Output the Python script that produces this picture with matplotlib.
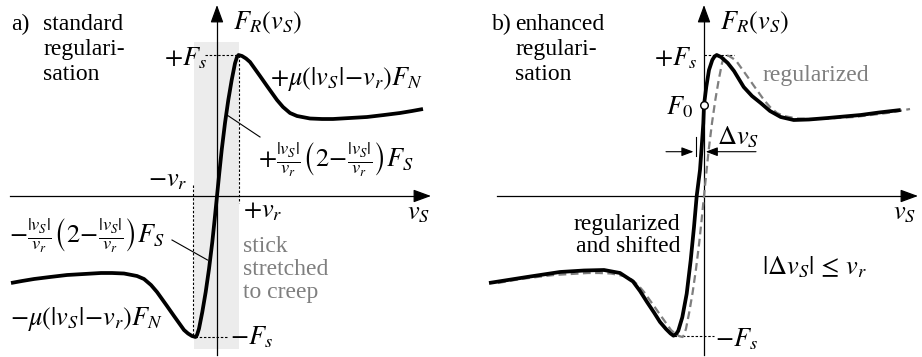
import matplotlib
matplotlib.use('Agg')
import matplotlib.pyplot as plt

plt.rcParams['font.family'] = ['Liberation Serif', 'DejaVu Serif']
plt.rcParams['mathtext.fontset'] = 'stix'

# standard regularised friction curve (diagram units, origin at axis cross)
std_v = [-206, -195, -183, -167, -150, -133, -116, -105, -93, -80, -73, -66, -60, -55, -50,
         -43, -38, -33, -29, -25, -21.5, -20, -18, -14.7, -11.3, -8, -4.7, -2.3, 0,
         2.3, 4.7, 8, 11.3, 14.7, 18, 20, 21.5, 25, 29, 33, 38, 43, 50, 55, 60, 66,
         73, 80, 93, 105, 116, 133, 150, 167, 183, 195, 206]
std_F = [-87, -85, -83, -81, -79, -78, -77, -77, -77.5, -80, -83, -89, -96, -103, -110,
         -120, -127, -134, -137.5, -140, -141, -139, -132.7, -116, -96, -73, -46, -23, 0,
         23, 46, 73, 96, 116, 132.7, 139, 141, 140, 137.5, 134, 127, 120, 110, 103, 96, 89,
         83, 80, 77.5, 77, 77, 78, 79, 81, 83, 85, 87]

# regularised and shifted curve (panel b)
shift_v = [-215, -177, -144, -120, -100, -84, -71, -64, -57, -50, -44, -38, -33.5, -30.5,
           -27.5, -25.7, -21.7, -17.3, -13.3, -10, -7.3, -4, -2.3, -0.7, 0,
           2.3, 5, 8.3, 10.5, 12.7, 17, 23.7, 30, 39.7, 48, 56.7, 66, 76.7, 89.7,
           105, 123.7, 140, 156.7, 175, 196.7]
shift_F = [-87, -81, -76, -74.5, -74, -77, -85.5, -95, -106, -116.5, -126, -133, -137.5, -139.7,
           -137.5, -134.7, -121.3, -97.7, -64.3, -31, 0, 26, 49.3, 72.7, 91,
           109.3, 126, 136, 139.5, 141, 139, 133, 125, 109, 100, 93, 85, 79, 76,
           76.5, 78, 79.5, 81, 83.5, 86]

Fs = 141
vr = 22
F0 = 91

black = 'black'
grey = '#7f7f7f'
dash = (0, (2.2, 1.6))

fig = plt.figure(figsize=(9.22, 3.57), dpi=100)
axa = fig.add_axes([0, 0, 460/922, 1])
axb = fig.add_axes([460/922, 0, 462/922, 1])
axa.set_xlim(-217, 243)
axa.set_ylim(-161, 196)
axb.set_xlim(-244, 218)
axb.set_ylim(-161, 196)
for ax in (axa, axb):
	ax.axis('off')

def axes_arrows(ax, xleft):
	ax.plot([xleft, 205], [0, 0], color=black, lw=0.9, zorder=2)
	ax.plot([0, 0], [-159, 183], color=black, lw=0.9, zorder=2)
	ax.annotate('', xy=(214, 0), xytext=(200, 0),
		arrowprops=dict(arrowstyle='-|>,head_length=0.9,head_width=0.33', color=black, lw=0.9, mutation_scale=12, shrinkA=0, shrinkB=0))
	ax.annotate('', xy=(0, 191), xytext=(0, 177),
		arrowprops=dict(arrowstyle='-|>,head_length=0.9,head_width=0.33', color=black, lw=0.9, mutation_scale=12, shrinkA=0, shrinkB=0))

def lines(ax, x, ys, words, **kw):
	for y, w in zip(ys, words):
		ax.text(x, y, w, va='baseline', **kw)

fs = 17
fm = 19

# ---------------- panel a ----------------
axa.fill_between([-23, 21.5], [-153, -153], [154, 154], color='#ececec', lw=0, zorder=0)
axes_arrows(axa, -207)
axa.plot([-12, 21.5], [Fs, Fs], color=black, lw=0.8, ls=dash)
axa.plot([vr, vr], [Fs, -7], color=black, lw=0.8, ls=dash)
axa.plot([-vr - 2, -vr - 2], [11, -Fs], color=black, lw=0.8, ls=dash)
axa.plot([-22, 11], [-Fs, -Fs], color=black, lw=0.8, ls=dash)
axa.plot(std_v, std_F, color=black, lw=2.7, solid_joinstyle='round', solid_capstyle='butt', zorder=3)
axa.plot([10, 43], [81, 59], color=black, lw=0.8)
axa.plot([-45, -9.5], [-44, -64], color=black, lw=0.8)

axa.text(-206, 166, 'a)', fontsize=fs, va='baseline')
lines(axa, -174, [166, 141, 116], ['standard', 'regulari-', 'sation'], fontsize=fs)
axa.text(16, 173, r'$F_R(v_S)$', fontsize=fm, va='center')
axa.text(-10, 138, r'$+F_s$', fontsize=fm, va='center', ha='right')
axa.text(206, 117, r'$+\mu(|v_S|\!-\!v_r)F_N$', fontsize=fm, va='center', ha='right')
axa.text(41, 36, r'$+\frac{|v_S|}{v_r}\left(2\!-\!\frac{|v_S|}{v_r}\right)F_S$', fontsize=fm, va='center')
axa.text(-52, -40, r'$-\frac{|v_S|}{v_r}\left(2\!-\!\frac{|v_S|}{v_r}\right)F_S$', fontsize=fm, va='center', ha='right')
axa.text(-207, -123, r'$-\mu(|v_S|\!-\!v_r)F_N$', fontsize=fm, va='center')
axa.text(-30, 15, r'$-v_r$', fontsize=fm, va='center', ha='right')
axa.text(26, -16, r'$+v_r$', fontsize=fm, va='center')
axa.text(213, -18, r'$v_S$', fontsize=fm, va='center', ha='right')
axa.text(13, -141, r'$-F_s$', fontsize=fm, va='center')
lines(axa, 26, [-55.7, -79, -102], ['stick', 'stretched', 'to creep'], fontsize=fs, color=grey)

# ---------------- panel b ----------------
axes_arrows(axb, -207)
axb.plot([0, 30], [Fs, Fs], color=black, lw=0.8, ls=dash)
axb.plot([-30.5, 10], [-Fs + 1, -Fs + 1], color=black, lw=0.8, ls=dash)
axb.plot(std_v, std_F, color=grey, lw=1.6, ls=(0, (3.5, 2)), zorder=3)
axb.plot(shift_v, shift_F, color=black, lw=2.7, solid_joinstyle='round', solid_capstyle='butt', zorder=4)
axb.scatter([0], [F0], s=30, facecolor='white', edgecolor=black, lw=1.0, zorder=5)

# delta v arrows
axb.plot([-8.5, -8.5], [59, 40], color=black, lw=0.8)
axb.annotate('', xy=(-10.5, 44.3), xytext=(-38, 44.3),
	arrowprops=dict(arrowstyle='-|>,head_length=0.8,head_width=0.3', color=black, lw=0.8, mutation_scale=9, shrinkA=0, shrinkB=0))
axb.annotate('', xy=(1.7, 44.3), xytext=(52, 44.3),
	arrowprops=dict(arrowstyle='-|>,head_length=0.8,head_width=0.3', color=black, lw=0.8, mutation_scale=9, shrinkA=0, shrinkB=0))

axb.text(-212, 166, 'b)', fontsize=fs, va='baseline')
lines(axb, -189, [166, 141, 116], ['enhanced', 'regulari-', 'sation'], fontsize=fs)
axb.text(16, 173, r'$F_R(v_S)$', fontsize=fm, va='center')
axb.text(-7, 138, r'$+F_s$', fontsize=fm, va='center', ha='right')
axb.text(58, 121, 'regularized', fontsize=fs, va='center', color=grey)
axb.text(-11, 89, r'$F_0$', fontsize=fm, va='center', ha='right')
axb.text(13, 59, r'$\Delta v_S$', fontsize=fm, va='center')
lines(axb, -24, [-34, -56], ['regularized', 'and shifted'], fontsize=fs, ha='right')
axb.text(58, -71, r'$|\Delta v_S|\,\leq\,v_r$', fontsize=fm, va='center')
axb.text(11, -143, r'$-F_s$', fontsize=fm, va='center')
axb.text(212, -18, r'$v_S$', fontsize=fm, va='center', ha='right')

fig.savefig('out.png', dpi=100)
